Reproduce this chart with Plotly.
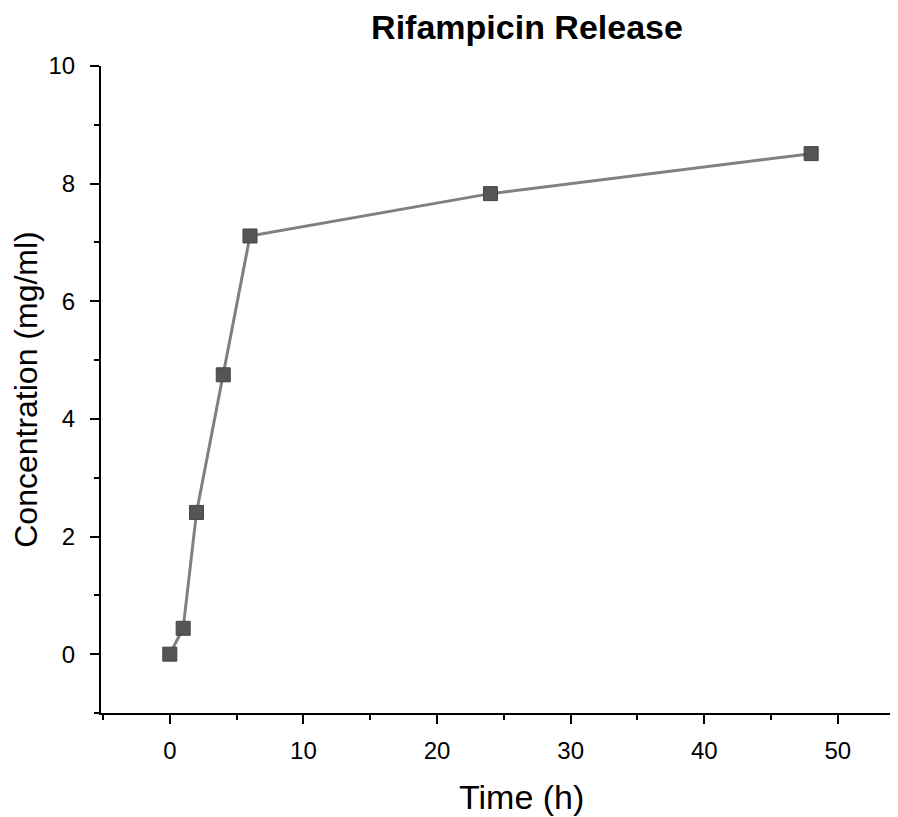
import plotly.graph_objects as go

time_h = [0, 1, 2, 4, 6, 24, 48]
conc = [0.0, 0.44, 2.41, 4.75, 7.11, 7.83, 8.51]
x_ticks = [0, 10, 20, 30, 40, 50]
y_ticks = [0, 2, 4, 6, 8, 10]

fig = go.Figure()
fig.add_trace(go.Scatter(
    x=time_h, y=conc, mode="lines+markers",
    line=dict(color="#808080", width=3),
    marker=dict(symbol="square", size=14, color="#555555",
                line=dict(color="#444444", width=1)),
    showlegend=False,
))

font = "Arial, Liberation Sans, sans-serif"
W, H = 890, 809  # page body has an 8px margin
fig.update_layout(
    width=W, height=H,
    margin=dict(l=93, r=0, t=58, b=104),
    paper_bgcolor="white", plot_bgcolor="white",
    font=dict(family=font, color="black"),
    title=dict(text="<b>Rifampicin Release</b>", x=(527 - 8) / W, xanchor="center",
               xref="container", y=1 - 19 / H, yanchor="middle",
               font=dict(size=34, family=font, color="black")),
)
fig.add_annotation(text="Time (h)", x=26.3, xref="x", y=0, yref="paper",
                   yanchor="middle", xanchor="center", yshift=-84,
                   showarrow=False, font=dict(size=34, family=font, color="black"))
fig.update_xaxes(
    range=[-5.15, 54.5], tickvals=x_ticks, showgrid=False, zeroline=False,
    showline=True, linecolor="black", linewidth=2,
    ticks="outside", ticklen=9, tickwidth=2, tickcolor="black",
    minor=dict(dtick=5, tick0=0, ticks="outside", ticklen=5, tickwidth=2, tickcolor="black", showgrid=False),
    tickfont=dict(size=24), ticklabelstandoff=6,
)
fig.update_yaxes(
    range=[-1, 10], tickvals=y_ticks, showgrid=False, zeroline=False,
    showline=True, linecolor="black", linewidth=2,
    ticks="outside", ticklen=9, tickwidth=2, tickcolor="black",
    minor=dict(dtick=1, tick0=0, ticks="outside", ticklen=5, tickwidth=2, tickcolor="black", showgrid=False),
    tickfont=dict(size=24), ticklabelstandoff=10,
    title=dict(text="Concentration (mg/ml)", font=dict(size=32), standoff=12),
)
fig.write_html("out.html")
